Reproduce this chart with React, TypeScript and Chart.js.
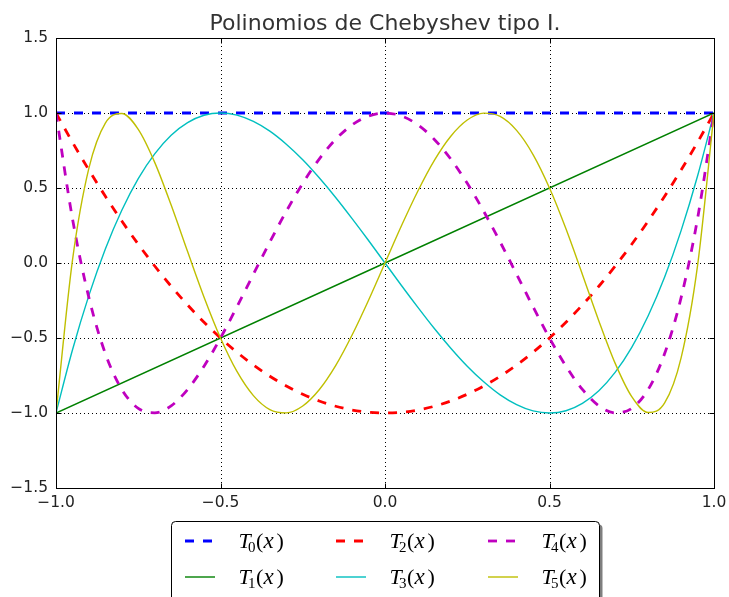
import React, { useEffect, useRef } from "react";
import { Chart, registerables } from "chart.js";

Chart.register(...registerables);

const TITLE = "Polinomios de Chebyshev tipo I.";

const xTicks = [-1, -0.5, 0, 0.5, 1];
const yTicks = [-1.5, -1, -0.5, 0, 0.5, 1, 1.5];

// endpoints for the straight lines
const xLine = [-1, 1];
const T0 = [1, 1];
const T1 = [-1, 1];

// sample points for the curved polynomials
const xs = [
  -1, -0.95, -0.9, -0.85, -0.8, -0.75, -0.7, -0.65, -0.6, -0.55, -0.5, -0.45, -0.4, -0.35,
  -0.3, -0.25, -0.2, -0.15, -0.1, -0.05, 0, 0.05, 0.1, 0.15, 0.2, 0.25, 0.3, 0.35, 0.4, 0.45,
  0.5, 0.55, 0.6, 0.65, 0.7, 0.75, 0.8, 0.85, 0.9, 0.95, 1,
];
const T2 = [
  1, 0.805, 0.62, 0.445, 0.28, 0.125, -0.02, -0.155, -0.28, -0.395, -0.5, -0.595, -0.68, -0.755,
  -0.82, -0.875, -0.92, -0.955, -0.98, -0.995, -1, -0.995, -0.98, -0.955, -0.92, -0.875, -0.82,
  -0.755, -0.68, -0.595, -0.5, -0.395, -0.28, -0.155, -0.02, 0.125, 0.28, 0.445, 0.62, 0.805, 1,
];
const T3 = [
  -1, -0.58, -0.216, 0.094, 0.352, 0.563, 0.728, 0.852, 0.936, 0.985, 1, 0.986, 0.944, 0.879,
  0.792, 0.688, 0.568, 0.437, 0.296, 0.15, 0, -0.15, -0.296, -0.437, -0.568, -0.688, -0.792,
  -0.879, -0.944, -0.986, -1, -0.985, -0.936, -0.852, -0.728, -0.563, -0.352, -0.094, 0.216, 0.58, 1,
];
const T4 = [
  1, 0.296, -0.231, -0.604, -0.843, -0.969, -0.999, -0.952, -0.843, -0.688, -0.5, -0.292, -0.075,
  0.14, 0.345, 0.531, 0.693, 0.824, 0.921, 0.98, 1, 0.98, 0.921, 0.824, 0.693, 0.531, 0.345, 0.14,
  -0.075, -0.292, -0.5, -0.688, -0.843, -0.952, -0.999, -0.969, -0.843, -0.604, -0.231, 0.296, 1,
];
const T5 = [
  -1, 0.017, 0.632, 0.933, 0.997, 0.891, 0.671, 0.386, 0.076, -0.228, -0.5, -0.723, -0.884, -0.977,
  -0.999, -0.953, -0.845, -0.684, -0.48, -0.248, 0, 0.248, 0.48, 0.684, 0.845, 0.953, 0.999, 0.977,
  0.884, 0.723, 0.5, 0.228, -0.076, -0.386, -0.671, -0.891, -0.997, -0.933, -0.632, -0.017, 1,
];

const seriesNames = ["0", "1", "2", "3", "4", "5"];
const seriesColors = ["#0000ff", "#008000", "#ff0000", "#00bfbf", "#bf00bf", "#bfbf00"];
const seriesDashed = [true, false, true, false, true, false];

const THICK = 2.8;
const THIN = 1.4;
const DASH = [9, 9];

const fmt = (v: number) => v.toFixed(1).replace("-", "\u2212");

const pts = (xa: number[], ya: number[]) => xa.map((x, i) => ({ x, y: ya[i] }));

const decorPlugin = {
  id: "decor",
  beforeDatasetsDraw(chart: any) {
    const { ctx, chartArea: a, scales } = chart;
    const sx = scales.x;
    const sy = scales.y;
    ctx.save();
    ctx.strokeStyle = "#000";
    ctx.lineWidth = 1;
    ctx.setLineDash([1, 3]);
    xTicks.forEach((v) => {
      const px = Math.round(sx.getPixelForValue(v)) + 0.5;
      ctx.beginPath();
      ctx.moveTo(px, a.top);
      ctx.lineTo(px, a.bottom);
      ctx.stroke();
    });
    yTicks.forEach((v) => {
      const py = Math.round(sy.getPixelForValue(v)) + 0.5;
      ctx.beginPath();
      ctx.moveTo(a.left, py);
      ctx.lineTo(a.right, py);
      ctx.stroke();
    });
    ctx.restore();
  },
  afterDatasetsDraw(chart: any) {
    const { ctx, chartArea: a, scales } = chart;
    const sx = scales.x;
    const sy = scales.y;
    ctx.save();
    ctx.setLineDash([]);
    ctx.strokeStyle = "#000";
    ctx.lineWidth = 1;
    const L = Math.round(a.left) + 0.5;
    const R = Math.round(a.right) + 0.5;
    const T = Math.round(a.top) + 0.5;
    const B = Math.round(a.bottom) + 0.5;
    ctx.strokeRect(L, T, R - L, B - T);
    const tl = 5;
    ctx.beginPath();
    xTicks.forEach((v) => {
      const px = Math.round(sx.getPixelForValue(v)) + 0.5;
      ctx.moveTo(px, B);
      ctx.lineTo(px, B - tl);
      ctx.moveTo(px, T);
      ctx.lineTo(px, T + tl);
    });
    yTicks.forEach((v) => {
      const py = Math.round(sy.getPixelForValue(v)) + 0.5;
      ctx.moveTo(L, py);
      ctx.lineTo(L + tl, py);
      ctx.moveTo(R, py);
      ctx.lineTo(R - tl, py);
    });
    ctx.stroke();
    ctx.restore();
  },
  afterDraw(chart: any) {
    const { ctx, chartArea: a } = chart;
    ctx.save();
    // title
    ctx.fillStyle = "#333";
    ctx.font = '22px "DejaVu Sans"';
    ctx.textAlign = "center";
    ctx.textBaseline = "alphabetic";
    ctx.fillText(TITLE, (a.left + a.right) / 2, 30);

    // legend box
    const bx = 171.5;
    const by = 521.5;
    const bw = 428;
    const bh = 110;
    ctx.fillStyle = "rgba(0,0,0,0.5)";
    ctx.beginPath();
    ctx.roundRect(bx + 3, by + 3, bw, bh, 4);
    ctx.fill();
    ctx.fillStyle = "#fff";
    ctx.strokeStyle = "#000";
    ctx.lineWidth = 1;
    ctx.beginPath();
    ctx.roundRect(bx, by, bw, bh, 4);
    ctx.fill();
    ctx.stroke();

    const colX = [185, 336, 488];
    const rowY = [541, 577];
    const order = [0, 1, 2, 3, 4, 5];
    order.forEach((si, k) => {
      const c = Math.floor(k / 2);
      const r = k % 2;
      const x0 = colX[c];
      const y0 = rowY[r];
      ctx.save();
      ctx.strokeStyle = seriesColors[si];
      ctx.lineWidth = seriesDashed[si] ? THICK : THIN;
      ctx.setLineDash(seriesDashed[si] ? [9, 9] : []);
      ctx.beginPath();
      ctx.moveTo(x0, y0);
      ctx.lineTo(x0 + 30, y0);
      ctx.stroke();
      ctx.restore();

      // math label T_n(x)
      const lx = x0 + 53.5;
      const base = y0 + 7;
      ctx.fillStyle = "#000";
      ctx.textAlign = "left";
      ctx.font = 'italic 22px "Liberation Serif"';
      ctx.fillText("T", lx, base);
      ctx.font = '15px "Liberation Serif"';
      ctx.fillText(seriesNames[si], lx + 9.5, base + 4);
      ctx.font = '22px "Liberation Serif"';
      ctx.fillText("(", lx + 17.5, base);
      ctx.font = 'italic 23px "Liberation Serif"';
      ctx.fillText("x", lx + 25, base);
      ctx.font = '22px "Liberation Serif"';
      ctx.fillText(")", lx + 38, base);
    });
    ctx.restore();
  },
};

export default function App() {
  const ref = useRef<HTMLCanvasElement | null>(null);

  useEffect(() => {
    document.body.style.margin = "0";
    const canvas = ref.current;
    if (!canvas) return;
    const mk = (label: string, xa: number[], ya: number[], i: number, order: number) => ({
      label,
      data: pts(xa, ya),
      borderColor: seriesColors[i],
      backgroundColor: seriesColors[i],
      borderWidth: seriesDashed[i] ? THICK : THIN,
      borderDash: seriesDashed[i] ? DASH : [],
      borderCapStyle: "butt" as const,
      pointRadius: 0,
      fill: false,
      cubicInterpolationMode: "monotone" as const,
      order,
    });
    const chart = new Chart(canvas, {
      type: "line",
      data: {
        datasets: [
          mk("T0(x)", xLine, T0, 0, 5),
          mk("T1(x)", xLine, T1, 1, 4),
          mk("T2(x)", xs, T2, 2, 3),
          mk("T3(x)", xs, T3, 3, 2),
          mk("T4(x)", xs, T4, 4, 1),
          mk("T5(x)", xs, T5, 5, 0),
        ],
      },
      options: {
        animation: false,
        responsive: false,
        maintainAspectRatio: false,
        devicePixelRatio: 1,
        layout: { padding: { top: 38, right: 15, left: 0, bottom: 0 } },
        plugins: {
          legend: { display: false },
          title: { display: false },
          tooltip: { enabled: false },
        },
        scales: {
          x: {
            type: "linear",
            min: -1,
            max: 1,
            grid: { display: false, drawTicks: false },
            border: { display: false },
            afterFit: (s: any) => {
              s.height = 109;
              s.paddingLeft = 0;
              s.paddingRight = 0;
            },
            afterBuildTicks: (s: any) => {
              s.ticks = xTicks.map((v) => ({ value: v }));
            },
            ticks: {
              padding: 6,
              maxRotation: 0,
              autoSkip: false,
              color: "#222",
              font: { family: "DejaVu Sans", size: 15.5 },
              callback: (v: any) => fmt(Number(v)),
            },
          },
          y: {
            type: "linear",
            min: -1.5,
            max: 1.5,
            grid: { display: false, drawTicks: false },
            border: { display: false },
            afterFit: (s: any) => {
              s.width = 56;
              s.paddingTop = 0;
              s.paddingBottom = 0;
            },
            afterBuildTicks: (s: any) => {
              s.ticks = yTicks.map((v) => ({ value: v }));
            },
            ticks: {
              padding: 8,
              autoSkip: false,
              color: "#222",
              font: { family: "DejaVu Sans", size: 15.5 },
              callback: (v: any) => fmt(Number(v)),
            },
          },
        },
      },
      plugins: [decorPlugin],
    });
    return () => chart.destroy();
  }, []);

  return (
    <div style={{ width: 729, height: 597, background: "#fff" }}>
      <canvas ref={ref} width={729} height={597} style={{ display: "block", width: 729, height: 597 }} />
    </div>
  );
}
